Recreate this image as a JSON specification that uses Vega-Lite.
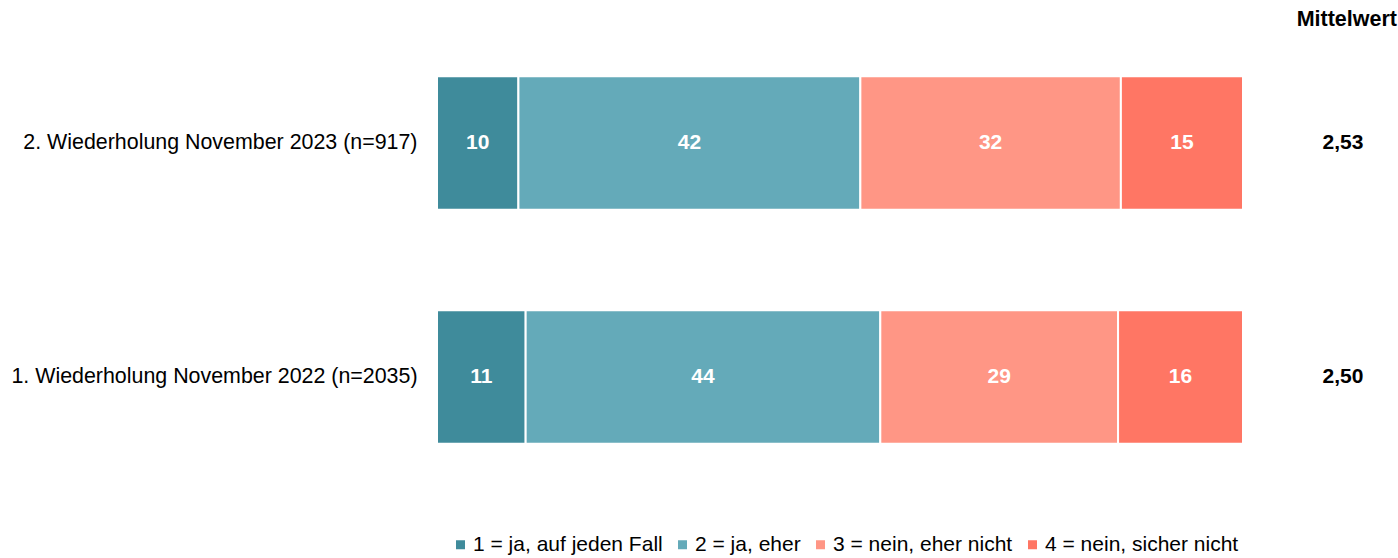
{
  "$schema": "https://vega.github.io/schema/vega-lite/v6.json",
  "width": 806,
  "height": 468,
  "autosize": {"type": "none"},
  "padding": {"left": 437, "top": 26, "right": 155, "bottom": 64},
  "background": "white",
  "config": {"view": {"stroke": null}, "font": "Liberation Sans"},
  "title": {"text": "Mittelwert", "anchor": "end", "frame": "group", "dx": 154, "offset": -4, "fontSize": 21.5, "fontWeight": "bold", "color": "#000000", "font": "Liberation Sans"},
  "datasets": {
    "bars": [
      {"wave": "2. Wiederholung November 2023 (n=917)", "category": "1 = ja, auf jeden Fall", "order": 1, "value": 10, "label": "10"},
      {"wave": "2. Wiederholung November 2023 (n=917)", "category": "2 = ja, eher", "order": 2, "value": 42, "label": "42"},
      {"wave": "2. Wiederholung November 2023 (n=917)", "category": "3 = nein, eher nicht", "order": 3, "value": 32, "label": "32"},
      {"wave": "2. Wiederholung November 2023 (n=917)", "category": "4 = nein, sicher nicht", "order": 4, "value": 15, "label": "15"},
      {"wave": "1. Wiederholung November 2022 (n=2035)", "category": "1 = ja, auf jeden Fall", "order": 1, "value": 11, "label": "11"},
      {"wave": "1. Wiederholung November 2022 (n=2035)", "category": "2 = ja, eher", "order": 2, "value": 44, "label": "44"},
      {"wave": "1. Wiederholung November 2022 (n=2035)", "category": "3 = nein, eher nicht", "order": 3, "value": 29.5, "label": "29"},
      {"wave": "1. Wiederholung November 2022 (n=2035)", "category": "4 = nein, sicher nicht", "order": 4, "value": 15.5, "label": "16"}
    ],
    "mw": [
      {"wave": "2. Wiederholung November 2023 (n=917)", "mittelwert": "2,53"},
      {"wave": "1. Wiederholung November 2022 (n=2035)", "mittelwert": "2,50"}
    ]
  },
  "encoding": {
    "y": {
      "field": "wave",
      "type": "nominal",
      "sort": ["2. Wiederholung November 2023 (n=917)", "1. Wiederholung November 2022 (n=2035)"],
      "scale": {"paddingInner": 0.43, "paddingOuter": 0.215},
      "axis": {"title": null, "domain": false, "ticks": false, "labelFontSize": 21.4, "labelColor": "#000000", "labelPadding": 20, "labelLimit": 0, "labelFont": "Liberation Sans"}
    }
  },
  "layer": [
    {
      "data": {"name": "bars"},
      "mark": {"type": "bar", "stroke": "white", "strokeWidth": 2},
      "encoding": {
        "x": {"field": "value", "type": "quantitative", "stack": "normalize", "scale": {"domain": [0, 1]}, "axis": null},
        "color": {
          "field": "category",
          "type": "nominal",
          "scale": {
            "domain": ["1 = ja, auf jeden Fall", "2 = ja, eher", "3 = nein, eher nicht", "4 = nein, sicher nicht"],
            "range": ["#3F8B9B", "#64AAB9", "#FF9685", "#FF7664"]
          },
          "legend": {
            "orient": "none",
            "legendX": 13,
            "legendY": 508,
            "direction": "horizontal",
            "columns": 4,
            "title": null,
            "symbolType": "square",
            "symbolSize": 81,
            "symbolStrokeWidth": 0,
            "labelFontSize": 21,
            "labelColor": "#000000",
            "labelFont": "Liberation Sans",
            "labelOffset": 2,
            "columnPadding": 9,
            "padding": 0,
            "labelLimit": 0
          }
        },
        "order": {"field": "order", "type": "quantitative"}
      }
    },
    {
      "data": {"name": "bars"},
      "mark": {"type": "text", "color": "white", "fontWeight": "bold", "fontSize": 21, "font": "Liberation Sans", "align": "center", "baseline": "middle"},
      "encoding": {
        "x": {"field": "value", "type": "quantitative", "stack": "normalize", "bandPosition": 0.5},
        "detail": {"field": "category"},
        "order": {"field": "order", "type": "quantitative"},
        "text": {"field": "label", "type": "nominal"}
      }
    },
    {
      "data": {"name": "mw"},
      "mark": {"type": "text", "color": "#000000", "fontWeight": "bold", "fontSize": 21, "font": "Liberation Sans", "align": "center", "baseline": "middle"},
      "encoding": {
        "x": {"datum": 1.124, "type": "quantitative"},
        "text": {"field": "mittelwert", "type": "nominal"}
      }
    }
  ]
}
